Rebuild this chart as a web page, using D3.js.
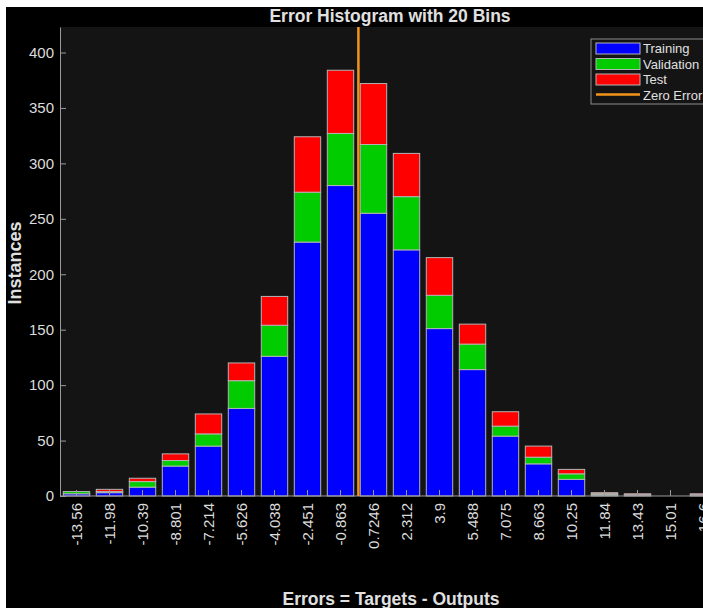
<!DOCTYPE html>
<html>
<head>
<meta charset="utf-8">
<script src="https://cdn.jsdelivr.net/npm/d3@7"></script>
<style>
  body { margin: 0; background: #fff; }
  svg { display: block; font-family: "Liberation Sans", Arial, sans-serif; }
</style>
</head>
<body>
<div id="chart"></div>
<script>
// bin centres, as printed under the bars
const binLabels = ["-13.56", "-11.98", "-10.39", "-8.801", "-7.214", "-5.626", "-4.038", "-2.451", "-0.863", "0.7246",
  "2.312", "3.9", "5.488", "7.075", "8.663", "10.25", "11.84", "13.43", "15.01", "16.6"];

// counts per bin
const training   = [2, 3, 8, 27, 45, 79, 126, 229, 280, 255, 222, 151, 114, 54, 29, 15, 1, 1, 0, 1];
const validation = [2, 1, 5, 5, 11, 25, 28, 45, 47, 62, 48, 30, 23, 9, 6, 5, 1, 0, 0, 0];
const test       = [0, 2, 3, 6, 18, 16, 26, 50, 57, 55, 39, 34, 18, 13, 10, 4, 1, 1, 0, 1];

const yTicks = [0, 50, 100, 150, 200, 250, 300, 350, 400];
const seriesNames = ["Training", "Validation", "Test"];
const seriesColors = ["#0000ff", "#00cc00", "#ff0000"];

const W = 703, H = 608;
const plotL = 60, plotR = 720, plotT = 27, plotB = 496;

const svg = d3.select("#chart").append("svg")
  .attr("width", W)
  .attr("height", H);

// black figure on a thin white margin
svg.append("rect").attr("x", 6).attr("y", 7).attr("width", W - 6).attr("height", H - 7).attr("fill", "#000");
svg.append("rect").attr("x", plotL).attr("y", plotT).attr("width", plotR - plotL).attr("height", plotB - plotT).attr("fill", "#141414");

const x = d3.scaleBand()
  .domain(binLabels)
  .range([plotL, plotR])
  .paddingInner(0.2)
  .paddingOuter(0.1);

const y = d3.scaleLinear()
  .domain([0, 423])
  .range([plotB, plotT]);

// value -> pixel, for the zero error line
const binVals = binLabels.map(Number);
const xVal = d3.scaleLinear()
  .domain([binVals[0], binVals[binVals.length - 1]])
  .range([x(binLabels[0]) + x.bandwidth() / 2, x(binLabels[binLabels.length - 1]) + x.bandwidth() / 2]);

const table = binLabels.map((b, i) => ({ bin: b, Training: training[i], Validation: validation[i], Test: test[i] }));
const stacked = d3.stack().keys(seriesNames)(table);

svg.append("g")
  .selectAll("g")
  .data(stacked)
  .join("g")
  .attr("fill", (d, i) => seriesColors[i])
  .selectAll("rect")
  .data(d => d.filter(s => s[1] > s[0]))
  .join("rect")
  .attr("x", d => x(d.data.bin))
  .attr("width", x.bandwidth())
  .attr("y", d => y(d[1]))
  .attr("height", d => y(d[0]) - y(d[1]))
  .attr("stroke", "#b4b4b4")
  .attr("stroke-width", 1);

// axes
const yAxis = svg.append("g")
  .attr("transform", "translate(" + plotL + ",0)")
  .call(d3.axisLeft(y).tickValues(yTicks).tickSizeInner(-6).tickSizeOuter(0).tickPadding(6));

const xAxis = svg.append("g")
  .attr("transform", "translate(0," + plotB + ")")
  .call(d3.axisBottom(x).tickSizeInner(-6).tickSizeOuter(0).tickPadding(6));

[yAxis, xAxis].forEach(a => {
  a.select(".domain").attr("stroke", "#9a9a9a");
  a.selectAll(".tick line").attr("stroke", "#9a9a9a");
  a.selectAll("text").attr("fill", "#dcdcdc").style("font-size", "15px");
});
xAxis.select(".domain").attr("d", "M" + plotL + ",0H" + plotR);

xAxis.selectAll("text")
  .attr("transform", "rotate(-90)")
  .attr("x", -7)
  .attr("y", 0)
  .attr("dy", "0.35em")
  .style("text-anchor", "end");

// zero error line
svg.append("line")
  .attr("x1", xVal(0)).attr("x2", xVal(0))
  .attr("y1", plotT).attr("y2", plotB)
  .attr("stroke", "#f39419")
  .attr("stroke-width", 2.5);

// titles
svg.append("text")
  .attr("x", 390).attr("y", 22)
  .attr("text-anchor", "middle")
  .attr("fill", "#e0e0e0")
  .style("font-size", "17.5px").style("font-weight", "bold")
  .text("Error Histogram with 20 Bins");

svg.append("text")
  .attr("x", 391).attr("y", 605)
  .attr("text-anchor", "middle")
  .attr("fill", "#e0e0e0")
  .style("font-size", "17.5px").style("font-weight", "bold")
  .text("Errors = Targets - Outputs");

svg.append("text")
  .attr("transform", "translate(21,263) rotate(-90)")
  .attr("text-anchor", "middle")
  .attr("fill", "#e0e0e0")
  .style("font-size", "18px").style("font-weight", "bold")
  .text("Instances");

// legend
const lg = svg.append("g").attr("transform", "translate(591,39)");
lg.append("rect")
  .attr("width", 130).attr("height", 65)
  .attr("fill", "#141414").attr("stroke", "#8c8c8c");

seriesNames.forEach((name, i) => {
  const row = lg.append("g").attr("transform", "translate(0," + (9 + i * 15.5) + ")");
  row.append("rect")
    .attr("x", 5).attr("y", -5).attr("width", 44).attr("height", 11)
    .attr("fill", seriesColors[i]).attr("stroke", "#b4b4b4");
  row.append("text")
    .attr("x", 52).attr("y", 5)
    .attr("fill", "#e0e0e0").style("font-size", "13px")
    .text(name);
});
const zr = lg.append("g").attr("transform", "translate(0," + (9 + 3 * 15.5) + ")");
zr.append("line").attr("x1", 5).attr("x2", 49).attr("y1", 0).attr("y2", 0)
  .attr("stroke", "#f39419").attr("stroke-width", 2.5);
zr.append("text").attr("x", 52).attr("y", 5)
  .attr("fill", "#e0e0e0").style("font-size", "13px")
  .text("Zero Error");
</script>
</body>
</html>
